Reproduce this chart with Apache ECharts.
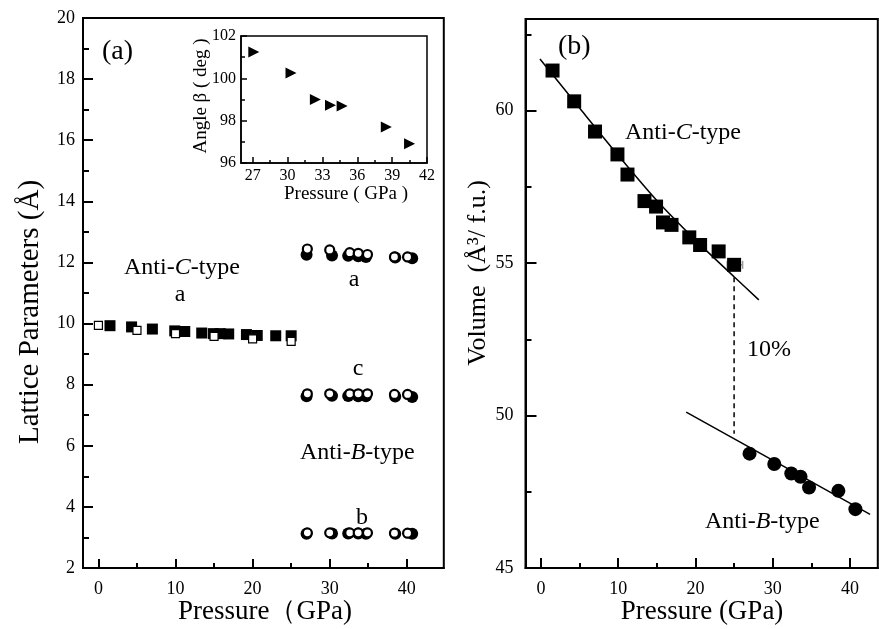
<!DOCTYPE html>
<html>
<head>
<meta charset="utf-8">
<script src="https://cdn.jsdelivr.net/npm/echarts@6/dist/echarts.min.js"></script>
<style>html,body{margin:0;padding:0;background:#fff;}#c{width:879px;height:629px;}</style>
</head>
<body>
<div id="c"></div>
<script>
// ---------- (a) Lattice parameters ----------
const antiCPressure = [1.5, 4.3, 7.0, 9.9, 11.2, 13.4, 14.9, 15.8, 16.9, 19.2, 20.6, 23.0, 25.0];
const antiCa = [9.93, 9.89, 9.82, 9.76, 9.74, 9.69, 9.67, 9.67, 9.66, 9.64, 9.61, 9.60, 9.60];
const antiCcalcPressure = [0, 5, 10, 15, 20, 25];
const antiCcalcA = [9.94, 9.78, 9.67, 9.58, 9.50, 9.42];

const antiBPressure = [27.0, 30.3, 32.4, 33.7, 34.7, 38.5, 40.7];
const antiBa = [12.25, 12.23, 12.22, 12.20, 12.18, 12.16, 12.14];
const antiBc = [7.62, 7.64, 7.63, 7.62, 7.62, 7.61, 7.60];
const antiBb = [3.12, 3.13, 3.13, 3.13, 3.12, 3.12, 3.12];
const antiBcalcPressure = [27.1, 30.0, 32.6, 33.7, 34.9, 38.4, 40.1];
const antiBcalcA = [12.44, 12.41, 12.32, 12.30, 12.26, 12.18, 12.18];
const antiBcalcC = [7.70, 7.70, 7.70, 7.70, 7.70, 7.68, 7.68];
const antiBcalcB = [3.15, 3.15, 3.15, 3.15, 3.15, 3.14, 3.14];

// inset: monoclinic angle beta
const betaPressure = [27.1, 30.3, 32.4, 33.7, 34.7, 38.5, 40.5];
const betaAngle = [101.24, 100.25, 99.0, 98.73, 98.69, 97.7, 96.91];

// ---------- (b) Volume ----------
const volCPressure = [1.5, 4.3, 7.0, 9.9, 11.2, 13.4, 14.9, 15.8, 16.9, 19.2, 20.6, 23.0, 25.0];
const volC = [61.31, 60.30, 59.31, 58.56, 57.90, 57.03, 56.85, 56.33, 56.25, 55.84, 55.59, 55.38, 54.94];
const volBPressure = [27.0, 30.2, 32.4, 33.6, 34.7, 38.5, 40.7];
const volB = [48.75, 48.41, 48.10, 47.99, 47.64, 47.53, 46.93];
const fitCPressure = [-0.13, 5, 10, 15, 20, 25, 28.2];
const fitCVolume = [61.69, 60.08, 58.53, 57.05, 55.75, 54.55, 53.79];
const fitBPressure = [18.8, 42.6];
const fitBVolume = [50.11, 46.76];
const jumpPressure = [25, 25];
const jumpVolume = [54.53, 49.4];
const errBar = [[25.0, 54.94, 24.1, 26.1]]; // pressure, volume, pressure low, pressure high

// tick labels
const mainXLabels = [0, 10, 20, 30, 40];
const mainXMinor = [5, 15, 25, 35];
const insetXLabels = [27, 30, 33, 36, 39, 42];
const insetXMinor = [28.5, 31.5, 34.5, 37.5, 40.5];
const volYLabels = [45, 50, 55, 60];
const volYMinor = [47.5, 52.5, 57.5, 62.5];

const FONT = 'Liberation Serif';
const INK = '#000';
const pairs = (xs, ys) => xs.map((x, i) => [x, ys[i]]);

function mainAxisBase(extra) {
  return Object.assign({
    type: 'value',
    axisLine: { show: true, onZero: false, lineStyle: { color: INK, width: 2 } },
    splitLine: { show: false },
    axisLabel: { color: INK, fontFamily: FONT, fontSize: 18 },
  }, extra);
}

const xAxis = [
  // left panel
  mainAxisBase({ gridIndex: 0, position: 'bottom', min: -2, max: 44.8,
    axisTick: { inside: true, length: 9, lineStyle: { color: INK, width: 2 }, customValues: mainXLabels },
    axisLabel: { color: INK, fontFamily: FONT, fontSize: 18, margin: 12, customValues: mainXLabels } }),
  mainAxisBase({ gridIndex: 0, position: 'bottom', min: -2, max: 44.8,
    axisLine: { show: false, onZero: false },
    axisTick: { inside: true, length: 5, lineStyle: { color: INK, width: 2 }, customValues: mainXMinor },
    axisLabel: { show: false } }),
  // inset
  mainAxisBase({ gridIndex: 1, position: 'bottom', min: 26, max: 42,
    axisLine: { show: true, onZero: false, lineStyle: { color: INK, width: 1.5 } },
    axisTick: { inside: true, length: 6, lineStyle: { color: INK, width: 1.5 }, customValues: insetXLabels },
    axisLabel: { color: INK, fontFamily: FONT, fontSize: 16, margin: 5, customValues: insetXLabels } }),
  mainAxisBase({ gridIndex: 1, position: 'bottom', min: 26, max: 42,
    axisLine: { show: false, onZero: false },
    axisTick: { inside: true, length: 3, lineStyle: { color: INK, width: 1.5 }, customValues: insetXMinor },
    axisLabel: { show: false } }),
  // right panel
  mainAxisBase({ gridIndex: 2, position: 'bottom', min: -2, max: 43.6,
    axisTick: { inside: true, length: 10, lineStyle: { color: INK, width: 2 }, customValues: mainXLabels },
    axisLabel: { color: INK, fontFamily: FONT, fontSize: 18, margin: 12, customValues: mainXLabels } }),
  mainAxisBase({ gridIndex: 2, position: 'bottom', min: -2, max: 43.6,
    axisLine: { show: false, onZero: false },
    axisTick: { inside: true, length: 5, lineStyle: { color: INK, width: 2 }, customValues: mainXMinor },
    axisLabel: { show: false } }),
];

const yAxis = [
  mainAxisBase({ gridIndex: 0, position: 'left', min: 2, max: 20, interval: 2,
    axisTick: { inside: true, length: 10, lineStyle: { color: INK, width: 2 } },
    minorTick: { show: true, splitNumber: 2, length: 6, lineStyle: { color: INK, width: 2 } },
    axisLabel: { color: INK, fontFamily: FONT, fontSize: 18, margin: 8 } }),
  mainAxisBase({ gridIndex: 1, position: 'left', min: 96, max: 102, interval: 2,
    axisLine: { show: true, onZero: false, lineStyle: { color: INK, width: 1.5 } },
    axisTick: { inside: true, length: 6, lineStyle: { color: INK, width: 1.5 } },
    minorTick: { show: true, splitNumber: 2, length: 4, lineStyle: { color: INK, width: 1.5 } },
    axisLabel: { color: INK, fontFamily: FONT, fontSize: 16, margin: 5 } }),
  mainAxisBase({ gridIndex: 2, position: 'left', min: 45, max: 63,
    axisTick: { inside: true, length: 11, lineStyle: { color: INK, width: 2 }, customValues: volYLabels },
    axisLabel: { color: INK, fontFamily: FONT, fontSize: 18, margin: 12, customValues: volYLabels } }),
  mainAxisBase({ gridIndex: 2, position: 'left', min: 45, max: 63,
    axisLine: { show: false, onZero: false },
    axisTick: { inside: true, length: 6, lineStyle: { color: INK, width: 2 }, customValues: volYMinor },
    axisLabel: { show: false } }),
];

const gridBase = { show: true, borderColor: INK, borderWidth: 2, backgroundColor: 'transparent', containLabel: false, outerBoundsMode: 'none' };

function scatter(x, y, xi, yi, sym, size, filled, border) {
  return {
    type: 'scatter', xAxisIndex: xi, yAxisIndex: yi, symbol: sym, symbolSize: size,
    data: pairs(x, y), silent: true,
    itemStyle: filled ? { color: INK, opacity: 1 } : { color: '#fff', borderColor: INK, borderWidth: border || 1.2, opacity: 1 },
  };
}

function line(x, y, xi, yi, dashed) {
  return {
    type: 'line', xAxisIndex: xi, yAxisIndex: yi, data: pairs(x, y), symbol: 'none', smooth: dashed ? false : 0.3,
    lineStyle: { color: INK, width: 1.5, type: dashed ? [5, 4] : 'solid' }, silent: true,
  };
}

const series = [
  // (a)
  scatter(antiCPressure, antiCa, 0, 0, 'rect', 11, true),
  scatter(antiCcalcPressure, antiCcalcA, 0, 0, 'rect', 8, false, 1.2),
  scatter(antiBPressure, antiBa, 0, 0, 'circle', 12, true),
  scatter(antiBPressure, antiBc, 0, 0, 'circle', 12, true),
  scatter(antiBPressure, antiBb, 0, 0, 'circle', 12, true),
  scatter(antiBcalcPressure, antiBcalcA, 0, 0, 'circle', 9, false, 2.2),
  scatter(antiBcalcPressure, antiBcalcC, 0, 0, 'circle', 9, false, 2.2),
  scatter(antiBcalcPressure, antiBcalcB, 0, 0, 'circle', 9, false, 2.2),
  // inset
  Object.assign(scatter(betaPressure, betaAngle, 2, 1, 'triangle', 11, true), { symbolRotate: -90 }),
  // (b)
  line(fitCPressure, fitCVolume, 4, 2, false),
  line(fitBPressure, fitBVolume, 4, 2, false),
  line(jumpPressure, jumpVolume, 4, 2, true),
  {
    type: 'custom', xAxisIndex: 4, yAxisIndex: 2, data: errBar, silent: true,
    renderItem(params, api) {
      const y = api.value(1);
      const l = api.coord([api.value(2), y]);
      const r = api.coord([api.value(3), y]);
      const st = { stroke: '#999', lineWidth: 1.5 };
      return { type: 'group', children: [
        { type: 'line', shape: { x1: l[0], y1: l[1], x2: r[0], y2: r[1] }, style: st },
        { type: 'line', shape: { x1: l[0], y1: l[1] - 4, x2: l[0], y2: l[1] + 4 }, style: st },
        { type: 'line', shape: { x1: r[0], y1: r[1] - 4, x2: r[0], y2: r[1] + 4 }, style: st },
      ] };
    },
  },
  scatter(volCPressure, volC, 4, 2, 'rect', 14, true),
  scatter(volBPressure, volB, 4, 2, 'circle', 14, true),
];

function txt(text, x, y, size, opts) {
  return {
    type: 'text', x, y, silent: true,
    style: Object.assign({ text, fontFamily: FONT, fontSize: size, fill: INK, align: 'left', verticalAlign: 'middle' }, opts || {}),
  };
}
function richType(prefix, letter, suffix, x, y, size) {
  return {
    type: 'text', x, y, silent: true,
    style: {
      text: '{n|' + prefix + '}{i|' + letter + '}{n|' + suffix + '}',
      fontFamily: FONT, fontSize: size, fill: INK, align: 'left', verticalAlign: 'middle',
      rich: {
        n: { fontFamily: FONT, fontSize: size, fill: INK },
        i: { fontFamily: FONT, fontSize: size, fontStyle: 'italic', fill: INK },
      },
    },
  };
}
function vtxt(text, x, y, size) {
  return {
    type: 'text', x, y, rotation: Math.PI / 2, silent: true,
    style: { text, fontFamily: FONT, fontSize: size, fill: INK, align: 'center', verticalAlign: 'middle' },
  };
}

const graphic = [
  // titles
  txt('Pressure（GPa)', 265, 612, 27, { align: 'center' }),
  vtxt('Lattice Parameters (Å)', 30, 312, 29),
  txt('Pressure ( GPa )', 346, 194, 19, { align: 'center' }),
  vtxt('Angle β ( deg )', 201, 96, 19),
  txt('Pressure (GPa)', 702, 612, 27, { align: 'center' }),
  vtxt('Volume  (Å³/ f.u.)', 478, 273, 26),
  // panel (a) annotations
  txt('(a)', 102, 52, 28),
  richType('Anti-', 'C', '-type', 124, 268, 24),
  txt('a', 180, 295, 24, { align: 'center' }),
  txt('a', 354, 280, 24, { align: 'center' }),
  txt('c', 358, 369, 24, { align: 'center' }),
  richType('Anti-', 'B', '-type', 300, 453, 24),
  txt('b', 362, 518, 24, { align: 'center' }),
  // panel (b) annotations
  txt('(b)', 558, 47, 28),
  richType('Anti-', 'C', '-type', 625, 133, 24),
  txt('10%', 747, 350, 24),
  richType('Anti-', 'B', '-type', 705, 522, 24),
];

const option = {
  animation: false,
  backgroundColor: '#fff',
  grid: [
    Object.assign({ left: 83, top: 18, width: 360.8, height: 550 }, gridBase),
    Object.assign({ left: 241, top: 36, width: 186, height: 127 }, gridBase, { borderWidth: 1.5 }),
    Object.assign({ left: 525.5, top: 19, width: 352.3, height: 549 }, gridBase),
  ],
  xAxis, yAxis, series, graphic,
};

const chart = echarts.init(document.getElementById('c'), null, { renderer: 'canvas' });
chart.setOption(option);
</script>
</body>
</html>
